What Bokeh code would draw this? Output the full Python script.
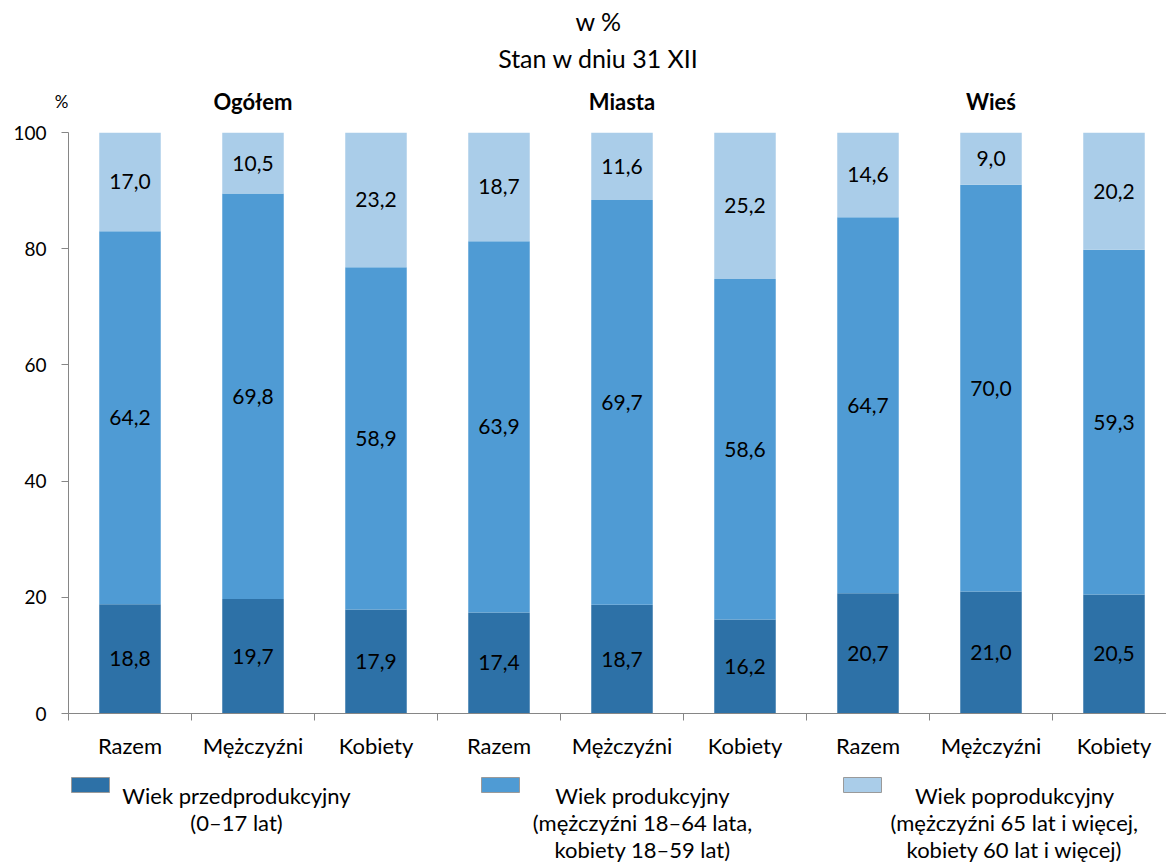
from bokeh.plotting import figure
from bokeh.layouts import column
from bokeh.models import ColumnDataSource, Range1d, FixedTicker
from bokeh.core.properties import value
from bokeh.embed import file_html
from bokeh.resources import INLINE

# ---- data ----
categories = ["Razem", "Mężczyźni", "Kobiety", "Razem", "Mężczyźni", "Kobiety",
              "Razem", "Mężczyźni", "Kobiety"]
groups = ["Ogółem", "Miasta", "Wieś"]
pre = [18.8, 19.7, 17.9, 17.4, 18.7, 16.2, 20.7, 21.0, 20.5]
prod = [64.2, 69.8, 58.9, 63.9, 69.7, 58.6, 64.7, 70.0, 59.3]
post = [17.0, 10.5, 23.2, 18.7, 11.6, 25.2, 14.6, 9.0, 20.2]
series_names = ["pre", "prod", "post"]
legend_labels = [
    ["Wiek przedprodukcyjny", "(0–17 lat)"],
    ["Wiek produkcyjny", "(mężczyźni 18–64 lata,", "kobiety 18–59 lat)"],
    ["Wiek poprodukcyjny", "(mężczyźni 65 lat i więcej,", "kobiety 60 lat i więcej)"],
]
y_ticks = [0, 20, 40, 60, 80, 100]
title_lines = ["w %", "Stan w dniu 31 XII"]
unit_label = "%"

colors = ["#2D71A7", "#4F9BD4", "#AACDE9"]
FONT = value("Lato")

# layout constants (pixels)
W = 1166
LEFT = 68
PX = 123.0                      # pixels per category
X_END = (W - LEFT) / PX
TOP_H = 122
MAIN_TOP = 10
FRAME_H = 581
MAIN_BOTTOM = 20
MAIN_H = MAIN_TOP + FRAME_H + MAIN_BOTTOM
TOTAL_H = 864
BOT_Y0 = TOP_H + MAIN_H
BOT_H = TOTAL_H - BOT_Y0


def fmt(v):
    return f"{v:.1f}".replace(".", ",")


def sx(px):
    """screen x (pixels from page left) -> category units"""
    return (px - LEFT) / PX


n = len(categories)
xs = [i + 0.5 for i in range(n)]
shared_x = Range1d(0, X_END)

# ---------- top panel (titles, group labels, unit) ----------
top = figure(width=W, height=TOP_H, output_backend="svg", toolbar_location=None,
             x_range=shared_x, y_range=Range1d(TOP_H, 0),
             x_axis_type=None, min_border_left=LEFT, min_border_right=0,
             min_border_top=0, min_border_bottom=0)
top.outline_line_color = None
top.grid.visible = False
ty = top.yaxis[0]
ty.ticker = FixedTicker(ticks=[101])
ty.major_label_overrides = {101: unit_label}
ty.axis_line_color = None
ty.major_tick_line_color = None
ty.minor_tick_line_color = None
ty.major_tick_out = 0
ty.major_tick_in = 0
ty.major_label_standoff = 0
ty.major_label_text_font = "Lato"
ty.major_label_text_font_size = "17px"
ty.major_label_text_color = "black"

top.text(x=[sx(598)] * 2, y=[20, 57], text=title_lines,
         text_align="center", text_baseline="middle", text_font=FONT,
         text_font_size="25px", text_color="black")
top.text(x=[g * 3 + 1.5 for g in range(len(groups))], y=[101] * len(groups),
         text=groups, text_align="center", text_baseline="middle", text_font=FONT,
         text_font_size="22px", text_font_style="bold", text_color="black")

# ---------- main chart ----------
src = ColumnDataSource(dict(x=xs, cat=categories, pre=pre, prod=prod, post=post))
p = figure(width=W, height=MAIN_H, output_backend="svg", toolbar_location=None,
           x_range=shared_x, y_range=Range1d(0, 100),
           min_border_left=LEFT, min_border_right=0, min_border_top=MAIN_TOP,
           min_border_bottom=MAIN_BOTTOM)
p.outline_line_color = None
p.xgrid.visible = False
p.ygrid.visible = False

p.vbar_stack(series_names, x="x", width=0.5, source=src, color=colors,
             line_color=None)

stack = [pre, prod, post]
base = [0.0] * n
for arr in stack:
    mids = [b + v / 2 for b, v in zip(base, arr)]
    p.text(x=xs, y=mids, text=[fmt(v) for v in arr], text_align="center",
           text_baseline="middle", text_font=FONT, text_font_size="21px",
           text_color="black")
    base = [b + v for b, v in zip(base, arr)]

ax = p.xaxis[0]
ax.ticker = FixedTicker(ticks=list(range(n + 1)))
ax.major_label_text_color = None
ax.major_label_text_font_size = "1px"
ax.axis_line_color = "#868686"
ax.major_tick_line_color = "#868686"
ax.major_tick_out = 7
ax.major_tick_in = 0
ax.minor_tick_line_color = None

ay = p.yaxis[0]
ay.ticker = FixedTicker(ticks=y_ticks)
ay.axis_line_color = "#868686"
ay.major_tick_line_color = "#868686"
ay.major_tick_out = 7
ay.major_tick_in = 0
ay.minor_tick_line_color = None
ay.major_label_text_font = "Lato"
ay.major_label_text_font_size = "19px"
ay.major_label_text_color = "black"
ay.major_label_standoff = 15

# ---------- bottom panel (category labels, legend) ----------
bot = figure(width=W, height=BOT_H, output_backend="svg", toolbar_location=None,
             x_range=shared_x, y_range=Range1d(TOTAL_H, BOT_Y0),
             x_axis_type=None, y_axis_type=None, min_border_left=LEFT,
             min_border_right=0, min_border_top=0, min_border_bottom=0)
bot.outline_line_color = None
bot.grid.visible = False

bot.text(x=xs, y=[745] * n, text=categories, text_align="center",
         text_baseline="middle", text_font=FONT, text_font_size="22px",
         text_color="black")

box_left = [sx(71), sx(481), sx(843)]
box_w = 38 / PX
text_cx = [sx(236), sx(642), sx(1014)]
line_y = [795, 822, 849]
bot.quad(left=box_left, right=[b + box_w for b in box_left], top=[777] * 3,
         bottom=[792] * 3, fill_color=colors, line_color="#9a9a9a", line_width=1)
for li, lines in enumerate(legend_labels):
    bot.text(x=[text_cx[li]] * len(lines), y=line_y[:len(lines)], text=lines,
             text_align="center", text_baseline="middle", text_font=FONT,
             text_font_size="22px", text_color="black")

layout = column(top, p, bot, spacing=0)
open("out.html", "w").write(file_html(layout, INLINE))
